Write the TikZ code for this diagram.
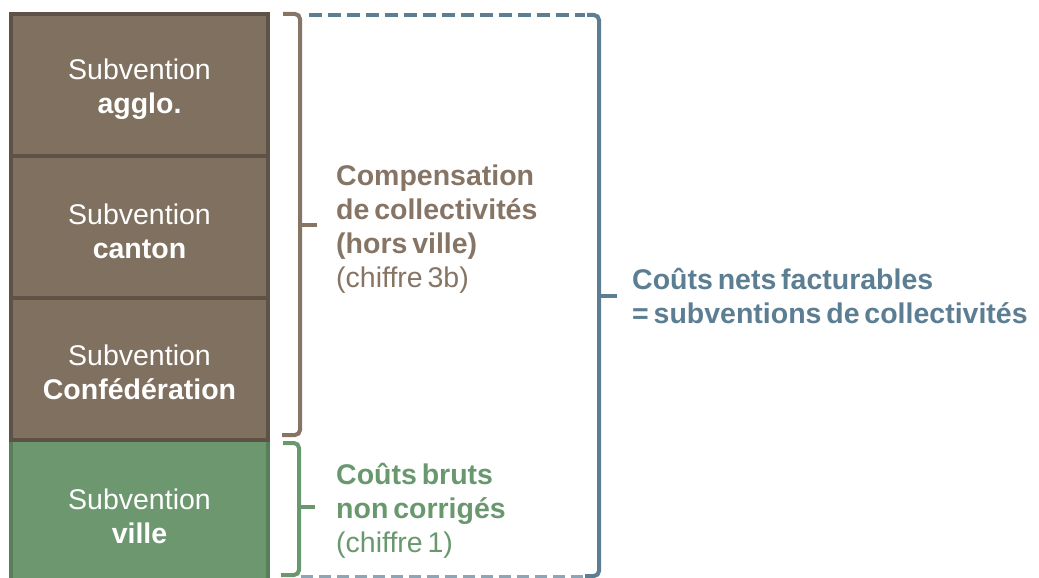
\documentclass[tikz,border=0pt]{standalone}
\usepackage{fontspec}
\setmainfont{Liberation Sans}
\definecolor{brfill}{HTML}{807060}
\definecolor{brline}{HTML}{5E5246}
\definecolor{grfill}{HTML}{6C976F}
\definecolor{grline}{HTML}{567F5A}
\definecolor{brtext}{HTML}{867464}
\definecolor{grtext}{HTML}{6A986E}
\definecolor{bltext}{HTML}{5C7E93}
\newcommand{\bigfont}{\fontsize{28.5}{34}\selectfont\spaceskip=0.17em plus 0.05em\relax}
\begin{document}
\begin{tikzpicture}[x=1pt,y=-1pt,
  box/.style={draw=brline,fill=brfill,line width=4pt,minimum width=257pt,minimum height=142pt,inner sep=0pt},
  gbox/.style={box,draw=grline,fill=grfill},
  boxtext/.style={align=center,text=white,font=\bigfont},
  lab/.style={anchor=north west,align=left,inner sep=0pt,font=\bigfont},
  brace/.style={line width=4pt,rounded corners=5pt,line cap=butt},
]
\useasboundingbox (0,0) rectangle (1039,578);
\begin{scope}
\clip (0,0) rectangle (1039,578);
\node[gbox] (b4) at (139.5,511) {};
\end{scope}
\node[box] (b3) at (139.5,369) {};
\node[box] (b2) at (139.5,227) {};
\node[box] (b1) at (139.5,85) {};
\node[boxtext] (s1) at (139.5,89) {Subvention\\\textbf{agglo.}};
\node[boxtext] (s2) at (139.5,231) {Subvention\\\textbf{canton}};
\node[boxtext] (s3) at (139.5,372) {Subvention\\\textbf{Confédération}};
\node[boxtext] (s4) at (139.5,516) {Subvention\\\textbf{ville}};

% brown brace
\coordinate (bt) at (300,14);
\coordinate (bb) at (300,435);
\coordinate (bm) at (300,225);
\draw[brace,brtext] (283,14) -- (bt) -- (bb) -- (282,435);
\draw[line width=4pt,brtext] (bm) -- (317,225);
% green brace
\coordinate (gt) at (299,443);
\coordinate (gb) at (299,575);
\coordinate (gm) at (299,507);
\draw[brace,grtext] (283,443) -- (gt) -- (gb) -- (281,575);
\draw[line width=4pt,grtext] (gm) -- (315,507);
% blue brace
\coordinate (ut) at (599,15);
\coordinate (ub) at (599,576);
\coordinate (um) at (599,296);
\draw[bltext,line width=4pt,dash pattern=on 13pt off 6pt] (309,15) -- (585,15);
\draw[brace,bltext] (587,15) -- (ut) -- (ub) -- (585,576);
\draw[bltext!70!white,line width=3pt,dash pattern=on 12pt off 6pt] (301,576) -- (583,576);
\draw[line width=4pt,bltext] (um) -- (617,296);

\node[lab,text=brtext] (t1) at (336,165) {\textbf{Compensation}\\\textbf{de collectivités}\\\textbf{(hors ville)}\\(chiffre 3b)};
\node[lab,text=grtext] (t2) at (336,463) {\textbf{Coûts bruts}\\\textbf{non corrigés}\\(chiffre 1)};
\node[lab,text=bltext] (t3) at (632,268) {\textbf{Coûts nets facturables}\\\textbf{= subventions de collectivités}};
\end{tikzpicture}
\end{document}
